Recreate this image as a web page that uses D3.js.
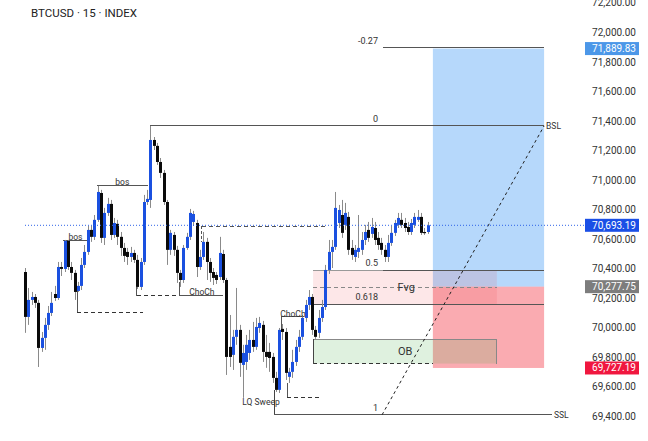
<!DOCTYPE html>
<html><head><meta charset="utf-8">
<script src="https://cdn.jsdelivr.net/npm/d3@7"></script>
<style>
body{margin:0;background:#fff;}
svg{display:block;font-family:Roboto,"Noto Sans",sans-serif;}
</style>
</head><body>
<svg id="c" width="648" height="441"></svg>
<script>
// ---- DATA (BTCUSD 15m candles) ----
const opens = [70377,70073,70188,70208,70168,69863,69931,70019,70100,70228,70201,70411,70398,70588,70411,70371,70249,70283,70425,70513,70662,70615,70730,70912,70608,70777,70838,70628,70703,70615,70540,70513,70479,70506,70459,70276,70445,70851,70865,71271,71231,71122,71048,70851,70527,70628,70527,70371,70323,70540,70615,70716,70709,70411,70479,70581,70445,70377,70357,70343,70499,70323,69870,69816,69938,69985,69748,69768,69829,69917,69870,69998,70019,69836,69836,69802,69660,69579,69992,69971,69667,69701,69768,69870,69938,70066,70154,70208,69985,69965,70066,70140,70391,70513,70547,70709,70763,70696,70750,70540,70479,70513,70527,70594,70662,70635,70675,70608,70574,70527,70479,70574,70642,70696,70730,70709,70682,70648,70696,70730,70750,70648,70648];
const highs = [70404,70269,70242,70228,70188,69971,70066,70147,70242,70283,70445,70445,70594,70594,70445,70391,70310,70472,70560,70689,70689,70763,70960,70933,70811,70879,70865,70743,70730,70648,70574,70540,70547,70527,70493,70472,70899,70933,71366,71291,71251,71149,71068,70865,70662,70648,70554,70391,70560,70642,70804,70791,70730,70527,70648,70608,70472,70404,70377,70615,70527,70337,70086,69985,70269,70019,69884,69951,69985,70039,70066,70073,70046,69951,69897,69829,69701,69998,70025,69998,69728,69850,69917,69985,70086,70188,70255,70228,70012,70120,70188,70425,70594,70594,70919,70831,70865,70845,70784,70594,70560,70763,70648,70696,70716,70743,70716,70648,70608,70560,70628,70689,70730,70777,70777,70743,70716,70736,70777,70797,70777,70675,70716];
const lows = [69965,70019,70154,70134,69734,69836,69850,69985,70079,70181,70188,70350,70377,70391,70323,70188,70242,70255,70404,70493,70581,70594,70716,70574,70560,70757,70594,70608,70560,70486,70445,70425,70445,70438,70262,70255,70425,70831,70811,71203,71102,71014,70831,70425,70493,70486,70303,70276,70303,70527,70594,70689,70343,70391,70459,70323,70310,70289,70296,70323,70303,69680,69734,69714,69884,69667,69525,69714,69782,69836,69850,69965,69768,69728,69701,69626,69565,69558,69917,69646,69626,69660,69741,69836,69917,70039,70120,69951,69924,69931,70039,70120,70364,70404,70527,70675,70608,70662,70493,70459,70445,70472,70493,70560,70581,70608,70560,70527,70493,70445,70445,70554,70621,70675,70675,70648,70628,70628,70675,70716,70628,70628,70635];
const closes = [70073,70188,70208,70168,69863,69931,70019,70100,70168,70201,70411,70398,70588,70411,70371,70242,70283,70425,70513,70662,70615,70730,70919,70608,70777,70838,70628,70709,70615,70540,70486,70479,70506,70459,70276,70445,70851,70872,71271,71231,71122,71048,70851,70527,70642,70527,70371,70323,70540,70615,70777,70770,70411,70479,70581,70445,70371,70337,70323,70506,70323,69802,69802,69938,69985,69762,69829,69884,69917,69870,70005,70032,69836,69802,69795,69660,69579,69985,69971,69694,69701,69768,69870,69938,70066,70154,70208,69985,69938,70066,70140,70391,70513,70547,70811,70797,70642,70777,70527,70493,70527,70540,70594,70648,70608,70682,70594,70560,70527,70479,70574,70642,70709,70743,70696,70675,70648,70709,70750,70750,70642,70642,70693.19];

const yTicks = [69200,69400,69600,69800,70000,70200,70400,70600,70800,71000,71200,71400,71600,71800,72000,72200];
const currentPrice = 70693.19;
const targetPrice = 71889.83, entryPrice = 70277.75, stopPrice = 69727.19;
const fibHigh = 71366, fibLow = 69410;           // fib anchors (level 0 and level 1)
const fibRatios = [-0.27, 0, 0.5, 0.618, 1];
const fibNames = ["-0.27", "0", "0.5", "0.618", "1"];
const fvgZone = [70388, 70154];   // top, bottom
const obZone = [69920, 69757];    // top, bottom

// ---- SCALES ----
const svg = d3.select("#c");
const x = d3.scaleLinear().domain([0, 122]).range([25, 427.6]);
const y = d3.scaleLinear().domain([69400, 72000]).range([416.3, 32.3]);
const fibPrice = r => fibHigh - r * (fibHigh - fibLow);

const g = svg.append("g");

// ---- LONG POSITION TOOL ----
g.append("rect").attr("x", x(123.6)).attr("width", x(157.3) - x(123.6))
  .attr("y", y(targetPrice)).attr("height", y(entryPrice) - y(targetPrice))
  .attr("fill", "rgba(41,140,243,0.34)");
g.append("rect").attr("x", x(123.6)).attr("width", x(157.3) - x(123.6))
  .attr("y", y(entryPrice)).attr("height", y(stopPrice) - y(entryPrice))
  .attr("fill", "rgba(242,54,69,0.42)");

// ---- FVG & OB ZONES ----
g.append("rect").attr("x", x(87.3)).attr("width", x(143) - x(87.3))
  .attr("y", y(fvgZone[0])).attr("height", y(fvgZone[1]) - y(fvgZone[0]))
  .attr("fill", "rgba(242,54,69,0.12)");
g.append("rect").attr("x", x(87.3)).attr("width", x(143) - x(87.3))
  .attr("y", y(obZone[0])).attr("height", y(obZone[1]) - y(obZone[0]))
  .attr("fill", "rgba(76,175,80,0.18)");

function seg(x1, p1, x2, p2, color, dash, w) {
  g.append("line").attr("x1", x(x1)).attr("y1", y(p1)).attr("x2", x(x2)).attr("y2", y(p2))
    .attr("stroke", color).attr("stroke-width", w || 1)
    .attr("stroke-dasharray", dash || null).attr("shape-rendering", "crispEdges");
}

// zone borders
seg(87.3, fvgZone[0], 108.5, fvgZone[0], "#999");
seg(87.3, 70271, 143, 70271, "#888", "4,3");
seg(87.3, obZone[0], 143, obZone[0], "#888");
seg(143, obZone[0], 143, obZone[1], "#888");
seg(87.3, obZone[1], 123.6, obZone[1], "#333", "4,3");
seg(87.3, 69924, 87.3, obZone[1], "#444");
seg(87.3, fvgZone[1], 108.5, fvgZone[1], "#555");

// fib lines
fibRatios.forEach((r, i) => {
  seg(108.5, fibPrice(r), 157.3, fibPrice(r), "#555");
});

// BSL / SSL
seg(38, fibHigh, 157.3, fibHigh, "#555");
seg(75.5, 69579, 75.5, fibLow, "#444");
seg(75.5, fibLow, 159.7, fibLow, "#555");

// structure lines
seg(11.5, 70590, 19.1, 70590, "#555");
seg(21.8, 70960, 37.3, 70960, "#555");
seg(15.9, 70255, 15.9, 70100, "#555");
seg(15.9, 70100, 35.8, 70100, "#333", "4,3");
seg(33.9, 70276, 33.9, 70215, "#555");
seg(33.9, 70215, 46.7, 70215, "#333", "4,3");
seg(46.7, 70310, 46.7, 70215, "#555");
seg(46.7, 70215, 60, 70215, "#555");
seg(53.6, 70686, 91.5, 70686, "#555", "4,3");
seg(53.6, 70686, 53.6, 70581, "#555", "3,2");
seg(77.6, 69992, 77.6, 70073, "#555");
seg(77.6, 70073, 84.5, 70073, "#555");
seg(79.4, 69626, 79.4, 69525, "#555");
seg(79.4, 69525, 89.4, 69525, "#333", "4,3");

// diagonal projection
g.append("line").attr("x1", x(108.2)).attr("y1", y(fibLow)).attr("x2", x(157.3)).attr("y2", y(fibHigh))
  .attr("stroke", "#222").attr("stroke-width", 1).attr("stroke-dasharray", "3,3");

// ---- CANDLES ----
const idx = d3.range(opens.length);
const cg = g.append("g");
cg.selectAll("line.w").data(idx).join("line").attr("class", "w")
  .attr("x1", i => Math.round(x(i)) + 0.5).attr("x2", i => Math.round(x(i)) + 0.5)
  .attr("y1", i => y(highs[i])).attr("y2", i => y(lows[i]))
  .attr("stroke", "#8a8a8a").attr("stroke-width", 1);
cg.selectAll("rect.b").data(idx).join("rect").attr("class", "b")
  .attr("x", i => Math.round(x(i)) - 1).attr("width", 3)
  .attr("y", i => y(Math.max(opens[i], closes[i])))
  .attr("height", i => Math.max(1.2, Math.abs(y(opens[i]) - y(closes[i]))))
  .attr("fill", i => closes[i] >= opens[i] ? "#1a50e0" : "#0a0a0a");

// current price dotted line
g.append("line").attr("x1", x(0)).attr("x2", 586).attr("y1", y(currentPrice)).attr("y2", y(currentPrice))
  .attr("stroke", "#2f63e8").attr("stroke-width", 1).attr("stroke-dasharray", "1,2");

// ---- TEXT LABELS ----
function label(t, xi, p, size, anchor) {
  g.append("text").attr("x", x(xi)).attr("y", y(p)).text(t)
    .attr("font-size", size).attr("fill", "#333").attr("text-anchor", anchor || "middle")
    .attr("dominant-baseline", "central");
}
fibRatios.forEach((r, i) => {
  g.append("text").attr("x", 378).attr("y", y(fibPrice(r)) - 7).text(fibNames[i])
    .attr("font-size", 9).attr("fill", "#333").attr("text-anchor", "end").attr("dominant-baseline", "central");
});
label("BSL", 157.9, fibHigh, 8.5, "start");
label("SSL", 160.3, fibLow, 8.5, "start");
label("Fvg", 115.5, 70271, 11);
label("OB", 115.2, 69838, 11);
label("bos", 15.3, 70617, 8.5);
label("bos", 29.5, 70987, 8.5);
label("ChoCh", 53.6, 70242, 8.5);
label("ChoCh", 81.2, 70093, 8.5);
label("LQ Sweep", 71.5, 69498, 8.5);

// ---- AXIS ----
const ax = svg.append("g").attr("transform", "translate(636,0)")
  .call(d3.axisRight(y).tickValues(yTicks).tickSize(0).tickFormat(d3.format(",.2f")));
ax.select(".domain").remove();
ax.selectAll("text").attr("x", 0).attr("text-anchor", "end")
  .attr("font-size", 10).attr("fill", "#333").attr("font-family", "Roboto,sans-serif");

// price tags
const tagPrices = [targetPrice, currentPrice, entryPrice, stopPrice];
const tagColors = ["#4c97e8", "#1a4fe6", "#7d7d7d", "#f0173f"];
tagPrices.forEach((p, i) => {
  svg.append("rect").attr("x", 585).attr("y", y(p) - 6.5).attr("width", 54).attr("height", 13)
    .attr("fill", tagColors[i]);
  svg.append("text").attr("x", 636).attr("y", y(p)).text(d3.format(",.2f")(p))
    .attr("font-size", 10).attr("fill", "#fff").attr("text-anchor", "end").attr("dominant-baseline", "central");
});

// title
svg.append("text").attr("x", 31).attr("y", 12.5).text("BTCUSD · 15 · INDEX")
  .attr("font-size", 11.5).attr("fill", "#222").attr("dominant-baseline", "central");
</script>
</body></html>
